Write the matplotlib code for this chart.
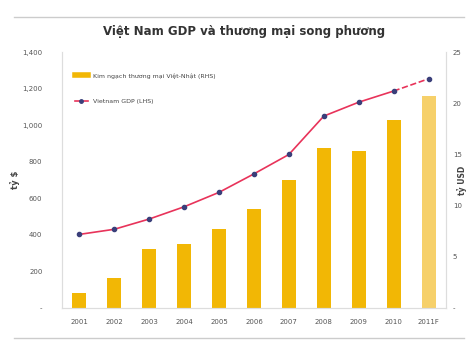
import matplotlib.pyplot as plt
from matplotlib.lines import Line2D

years = ['2001', '2002', '2003', '2004', '2005', '2006', '2007', '2008', '2009', '2010', '2011F']
# trade volume (right axis)
trade = [1.5, 2.9, 5.8, 6.3, 7.7, 9.7, 12.5, 15.6, 15.3, 18.4, 20.7]
# GDP (left axis)
gdp = [403, 431, 487, 554, 633, 734, 840, 1050, 1126, 1187, 1254]

left_ticks = [0, 200, 400, 600, 800, 1000, 1200, 1400]
left_labels = ['-', '200', '400', '600', '800', '1,000', '1,200', '1,400']
right_ticks = [0, 5, 10, 15, 20, 25]
right_labels = ['-', '5', '10', '15', '20', '25']

fig = plt.figure(figsize=(4.69, 3.45), dpi=100)
ax = fig.add_axes([0.132, 0.107, 0.819, 0.742])
ax2 = ax.twinx()
ax.set_zorder(ax2.get_zorder() + 1)
ax.patch.set_visible(False)

x = list(range(len(years)))
colors = ['#F2B705'] * (len(years) - 1) + ['#F6D06A']
ax2.bar(x, trade, width=0.4, color=colors, zorder=2)

ax.plot(x[:-1], gdp[:-1], color='#E8335A', lw=1.2, zorder=3)
ax.plot(x[-2:], gdp[-2:], color='#E8335A', lw=1.2, ls='--', zorder=3)
ax.plot(x, gdp, ls='none', marker='o', ms=3, color='#3A3F7A', zorder=4)

ax.set_xlim(-0.5, len(years) - 0.5)
ax.set_ylim(0, 1400)
ax2.set_ylim(0, 25)
ax.set_xticks(x)
ax.set_xticklabels(years, fontsize=5, color='#555555')
ax.set_yticks(left_ticks)
ax.set_yticklabels(left_labels, fontsize=5, color='#555555')
ax2.set_yticks(right_ticks)
ax2.set_yticklabels(right_labels, fontsize=5, color='#555555')
ax.tick_params(axis='x', length=0, pad=8)
ax.tick_params(axis='y', length=0, pad=14)
ax2.tick_params(length=0, pad=5)

for a in (ax, ax2):
    a.spines['top'].set_visible(False)
    for s in ('left', 'right', 'bottom'):
        a.spines[s].set_color('#DDDDDD')
        a.spines[s].set_linewidth(0.8)

ax.set_ylabel('tỷ $', fontsize=6, fontweight='bold', color='#444444')
ax.yaxis.set_label_coords(-0.11, 0.5)
ax2.set_ylabel('tỷ USD', fontsize=5.5, fontweight='bold', color='#444444')
ax2.yaxis.set_label_coords(1.03, 0.5)

handles = [Line2D([0], [0], color='#F2B705', lw=4),
           Line2D([0], [0], color='#E8335A', lw=1.2, marker='o', ms=2.5,
                  mfc='#3A3F7A', mec='#3A3F7A')]
ax.legend(handles, ['Kim ngạch thương mại Việt-Nhật (RHS)', 'Vietnam GDP (LHS)'],
          loc='upper left', bbox_to_anchor=(0.02, 0.94), frameon=False,
          fontsize=4.5, handlelength=2, labelspacing=3.2, labelcolor='#444444')

fig.text(0.52, 0.9, 'Việt Nam GDP và thương mại song phương', ha='center',
         fontsize=8.5, fontweight='bold', color='#333333')

# chart frame lines
fig.add_artist(Line2D([0.03, 0.99], [0.95, 0.95], color='#CCCCCC', lw=1))
fig.add_artist(Line2D([0.03, 0.99], [0.02, 0.02], color='#CCCCCC', lw=1))

fig.savefig('out.png', dpi=100, facecolor='white')
